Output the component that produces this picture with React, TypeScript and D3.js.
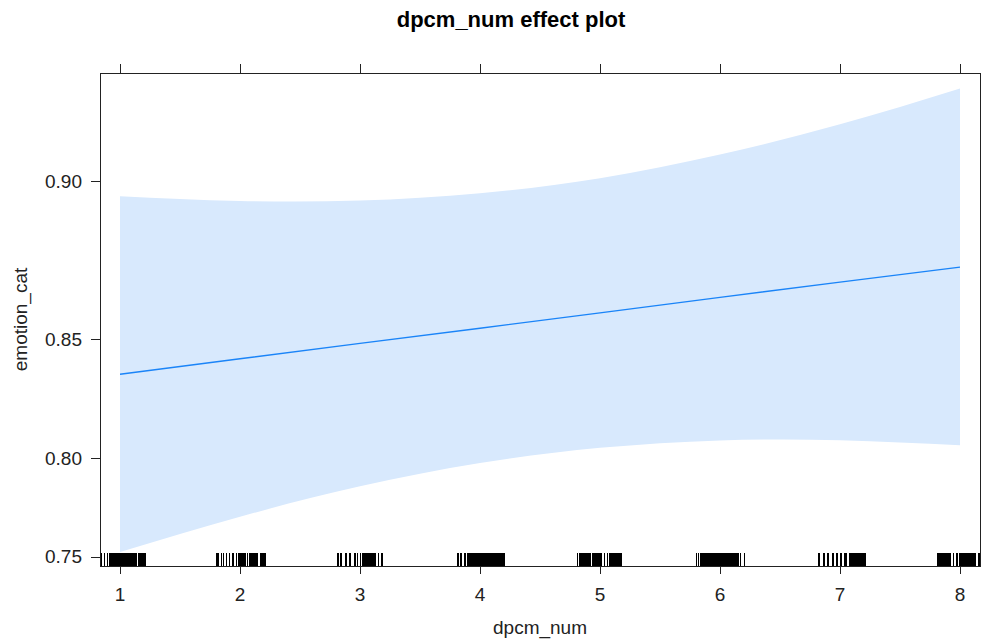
import React from "react";
import * as d3 from "d3";

// ---- data ----
const xGrid = [1, 2, 3, 4, 5, 6, 7, 8];
const fitValues = [0.8365, 0.8426, 0.8485, 0.8541, 0.8596, 0.865, 0.8701, 0.875];
const lowerValues = [0.7526, 0.7713, 0.7866, 0.7978, 0.8049, 0.8083, 0.8084, 0.8061];
const upperValues = [0.896, 0.8947, 0.8948, 0.8968, 0.9008, 0.9068, 0.914, 0.9219];

const xTicks = [1, 2, 3, 4, 5, 6, 7, 8];
const yTicks = [0.75, 0.8, 0.85, 0.9];
const yTickLabels = ["0.75", "0.80", "0.85", "0.90"];
const xLimits = [0.8333, 8.1667];
const yLimits = [0.7449, 0.9251];

// rug observations, as [start, end] spans in dpcm_num units
const rugSpans: [number, number][] = [
  [0.8333, 0.8417], [0.8667, 0.8667], [0.8917, 0.8917], [0.9083, 1.1333], [1.15, 1.2083],
  [1.8, 1.8167], [1.8417, 1.8417], [1.8583, 1.8583], [1.8833, 1.8833], [1.9083, 1.9083],
  [1.9333, 1.9417], [1.9667, 1.9667], [1.9833, 2.0417], [2.0583, 2.0583], [2.075, 2.1417],
  [2.1667, 2.2083],
  [2.8083, 2.8167], [2.8333, 2.8417], [2.875, 2.8833], [2.9083, 2.9167], [2.95, 2.9583],
  [2.975, 2.975], [3.0, 3.0], [3.0167, 3.125], [3.15, 3.15], [3.175, 3.1833],
  [3.8083, 3.8167], [3.8333, 3.8417], [3.8667, 3.875], [3.8917, 4.2],
  [4.8083, 4.8083], [4.825, 4.9167], [4.9333, 5.0083], [5.0333, 5.0333], [5.0583, 5.0583],
  [5.075, 5.175],
  [5.8, 5.8], [5.8167, 5.8167], [5.8333, 6.15], [6.1667, 6.1667], [6.2, 6.2],
  [6.8167, 6.825], [6.8583, 6.8667], [6.8917, 6.9], [6.9333, 6.9417], [6.9667, 6.975],
  [7.0, 7.0083], [7.0333, 7.05], [7.075, 7.2083],
  [7.8083, 7.9167], [7.9417, 7.9417], [7.9667, 7.975], [7.9917, 8.125], [8.15, 8.1583],
];

const title = "dpcm_num effect plot";
const xLabel = "dpcm_num";
const yLabel = "emotion_cat";

const W = 982;
const H = 640;
const L = 100, R = 980, T = 73, B = 566;
const FONT = "'Liberation Sans', Arial, sans-serif";

const logit = (p: number) => Math.log(p / (1 - p));

export default function App() {
  const x = d3.scaleLinear().domain(xLimits).range([L, R]);
  const yl = d3.scaleLinear().domain(yLimits.map(logit)).range([B, T]);
  const y = (p: number) => yl(logit(p));

  const pts = xGrid.map((v, i) => ({ x: v, fit: fitValues[i], lo: lowerValues[i], hi: upperValues[i] }));

  const band = d3
    .area<typeof pts[number]>()
    .x((d) => x(d.x))
    .y0((d) => y(d.lo))
    .y1((d) => y(d.hi))
    .curve(d3.curveNatural)(pts) as string;

  const line = d3
    .line<typeof pts[number]>()
    .x((d) => x(d.x))
    .y((d) => y(d.fit))(pts) as string;

  return (
    <svg
      width={W}
      height={H}
      style={{ position: "absolute", left: 0, top: 0, background: "#fff" }}
      fontFamily={FONT}
    >
      <text x={511} y={27} textAnchor="middle" fontSize={22} fontWeight="bold" fill="#000">
        {title}
      </text>

      <defs>
        <clipPath id="plotclip">
          <rect x={L} y={T} width={R - L} height={B - T} />
        </clipPath>
      </defs>

      <g clipPath="url(#plotclip)">
        <path d={band} fill="#d8e9fd" stroke="none" />
        <path d={line} fill="none" stroke="#1a84f8" strokeWidth={1.4} />
        {rugSpans.map(([a, b], i) => {
          const x0 = Math.round(x(a));
          const x1 = Math.round(x(b));
          return (
            <rect
              key={i}
              x={x0}
              y={553}
              width={Math.max(1, x1 - x0 + 1)}
              height={B - 553}
              fill="#000"
              shapeRendering="crispEdges"
            />
          );
        })}
      </g>

      <rect
        x={L + 0.5}
        y={T + 0.5}
        width={R - L}
        height={B - T}
        fill="none"
        stroke="#222"
        strokeWidth={1}
        shapeRendering="crispEdges"
      />

      {xTicks.map((t) => (
        <g key={"xt" + t}>
          <line x1={Math.round(x(t)) + 0.5} x2={Math.round(x(t)) + 0.5} y1={B} y2={B + 8} stroke="#222" />
          <line x1={Math.round(x(t)) + 0.5} x2={Math.round(x(t)) + 0.5} y1={T} y2={T - 9} stroke="#222" />
          <text x={x(t)} y={601} textAnchor="middle" fontSize={19} fill="#222">
            {String(t)}
          </text>
        </g>
      ))}

      {yTicks.map((t, i) => (
        <g key={"yt" + t}>
          <line x1={L - 9} x2={L} y1={Math.round(y(t)) + 0.5} y2={Math.round(y(t)) + 0.5} stroke="#222" />
          <text x={82} y={y(t)} dy="0.35em" textAnchor="end" fontSize={19} fill="#222">
            {yTickLabels[i]}
          </text>
        </g>
      ))}

      <text x={(L + R) / 2} y={634} textAnchor="middle" fontSize={19} fill="#222">
        {xLabel}
      </text>
      <text
        transform={`translate(${27},${(T + B) / 2}) rotate(-90)`}
        textAnchor="middle"
        fontSize={19}
        fill="#222"
      >
        {yLabel}
      </text>
    </svg>
  );
}
